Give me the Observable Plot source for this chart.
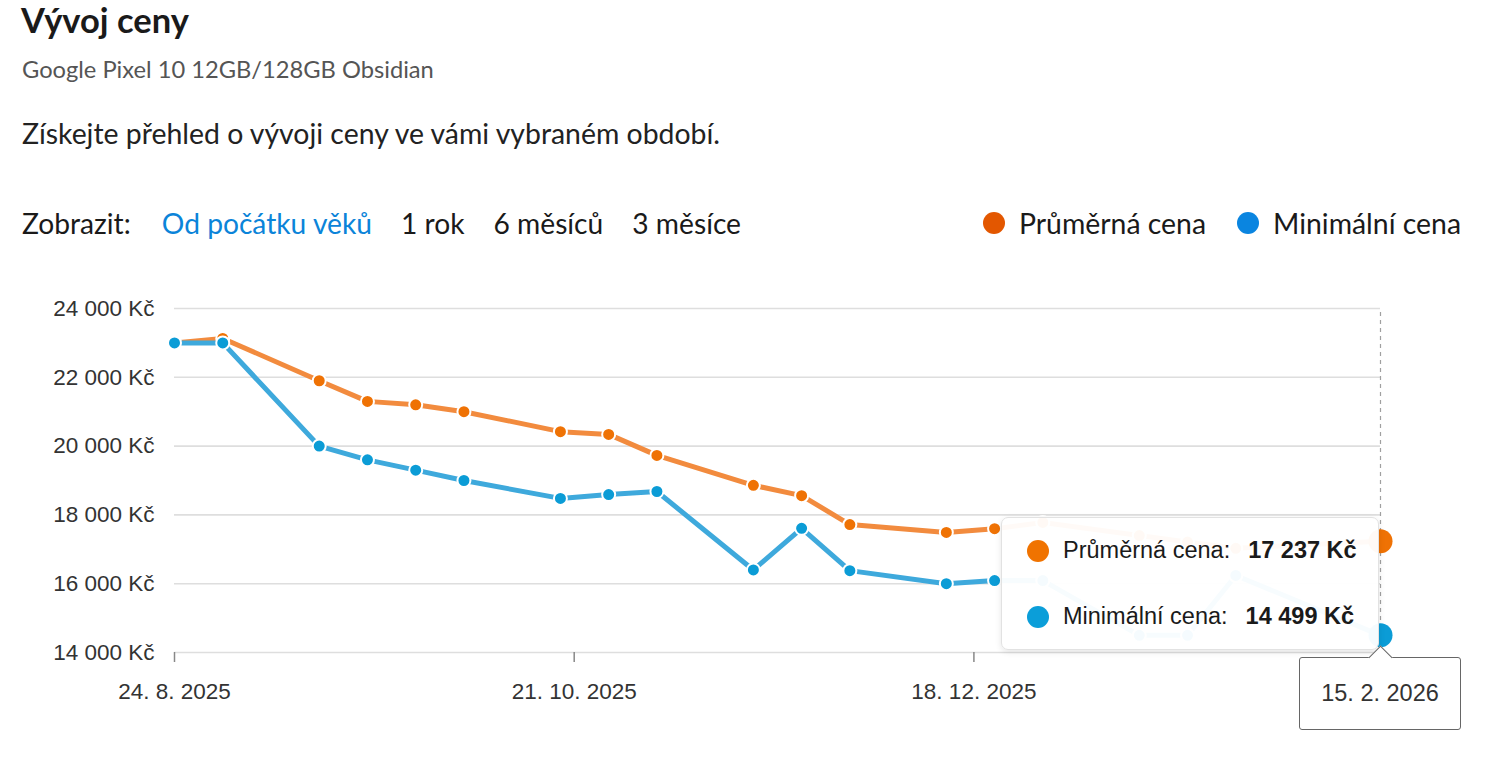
<!DOCTYPE html>
<html lang="cs">
<head>
<meta charset="utf-8">
<script src="https://cdn.jsdelivr.net/npm/d3@7"></script>
<script src="https://cdn.jsdelivr.net/npm/@observablehq/plot@0.6"></script>
<style>
  html, body { margin: 0; padding: 0; background: #fff; }
  body { width: 1496px; height: 772px; overflow: hidden; position: relative; font-family: Lato, "Noto Sans", sans-serif; color: #1f1f1f; }
  .abs { position: absolute; white-space: nowrap; line-height: 1; }
  #title { left: 21px; top: 3px; font-size: 34.5px; font-weight: 700; color: #1a1a1a; }
  #subtitle { left: 22px; top: 58px; font-size: 23.7px; color: #555; }
  #lead { left: 22px; top: 119px; font-size: 28.4px; color: #222; }
  #nav { left: 22px; top: 209px; font-size: 28.2px; color: #1a1a1a; }
  #nav span { margin-right: 29px; }
  #nav .lbl { margin-right: 31px; }
  #nav .active { color: #0b84d9; }
  #legend { right: 35px; top: 209px; font-size: 28.4px; color: #1a1a1a; display: flex; align-items: center; }
  #legend .sw { display: inline-block; width: 22px; height: 22px; border-radius: 50%; margin-right: 14px; }
  #legend .item { display: flex; align-items: center; margin-left: 31px; }
  #chart { position: absolute; left: 0; top: 280px; width: 1496px; height: 460px; }
  #tooltip { position: absolute; width: 378px; height: 133px; box-sizing: border-box; background: rgba(255,255,255,0.96); border: 1.5px solid #e2e2e2; border-radius: 7px; box-shadow: 0 2px 6px rgba(0,0,0,0.10); font-family: "Liberation Sans", Arial, sans-serif; font-size: 23.5px; color: #1a1a1a; }
  #tooltip .row { position: absolute; left: 25px; display: flex; align-items: center; }
  #tooltip .dot { width: 22px; height: 22px; border-radius: 50%; margin-right: 14px; }
  #tooltip b { margin-left: 18px; }
  #datebox { position: absolute; width: 162px; height: 73px; box-sizing: border-box; background: #fff; border: 1.5px solid #666; border-radius: 3px; font-family: "Liberation Sans", Arial, sans-serif; font-size: 23.5px; color: #333; display: flex; align-items: center; justify-content: center; }
  #datebox .notch { position: absolute; top: -9px; width: 16px; height: 16px; background: #fff; border-left: 1.5px solid #666; border-top: 1.5px solid #666; transform: rotate(45deg); }
</style>
</head>
<body>
<div id="title" class="abs">Vývoj ceny</div>
<div id="subtitle" class="abs">Google Pixel 10 12GB/128GB Obsidian</div>
<div id="lead" class="abs">Získejte přehled o vývoji ceny ve vámi vybraném období.</div>
<div id="nav" class="abs"></div>
<div id="legend" class="abs"></div>
<div id="chart"></div>
<script>
// ---- data ----
const dates = ["2025-08-24","2025-08-31","2025-09-14","2025-09-21","2025-09-28","2025-10-05",
  "2025-10-19","2025-10-26","2025-11-02","2025-11-16","2025-11-23","2025-11-30",
  "2025-12-14","2025-12-21","2025-12-28","2026-01-11","2026-01-18","2026-01-25","2026-02-15"];
const avgPrices = [23000, 23130, 21900, 21300, 21200, 21000, 20420, 20340, 19730, 18860, 18560, 17720,
  17490, 17600, 17780, 17400, 17210, 17030, 17237];
const minPrices = [23000, 23000, 20000, 19600, 19300, 19000, 18480, 18590, 18680, 16400, 17610, 16380,
  16000, 16090, 16090, 14499, 14499, 16240, 14499];
const seriesNames = ["Průměrná cena", "Minimální cena"];
const xTickDates = ["2025-08-24", "2025-10-21", "2025-12-18"];
const yTicks = [14000, 16000, 18000, 20000, 22000, 24000];
const navLabel = "Zobrazit:";
const navItems = ["Od počátku věků", "1 rok", "6 měsíců", "3 měsíce"];

// ---- header ----
const nav = document.getElementById("nav");
nav.innerHTML = `<span class="lbl">${navLabel}</span>` +
  navItems.map((t, i) => `<span class="${i === 0 ? "active" : ""}">${t}</span>`).join("");
const legendColors = ["#e35700", "#0a85e0"];
document.getElementById("legend").innerHTML = seriesNames.map((n, i) =>
  `<span class="item"><span class="sw" style="background:${legendColors[i]}"></span>${n}</span>`).join("");

// ---- chart ----
const parse = s => new Date(s + "T00:00:00Z");
const avg = dates.map((d, i) => ({date: parse(d), value: avgPrices[i]}));
const min = dates.map((d, i) => ({date: parse(d), value: minPrices[i]}));
const lastAvg = avg[avg.length - 1], lastMin = min[min.length - 1];
const fmtNum = v => d3.format(",")(v).replace(/,/g, " ");
const fmtDate = d => `${d.getUTCDate()}. ${d.getUTCMonth() + 1}. ${d.getUTCFullYear()}`;

const plot = Plot.plot({
  width: 1496, height: 460,
  marginLeft: 174, marginRight: 116, marginTop: 28, marginBottom: 88,
  style: {fontFamily: "'Liberation Sans', Arial, sans-serif", fontSize: "22.5px", color: "#333", background: "transparent"},
  x: {type: "utc", domain: [parse(dates[0]), parse(dates[dates.length - 1])], label: null},
  y: {domain: [yTicks[0], yTicks[yTicks.length - 1]], label: null},
  marks: [
    Plot.gridY(yTicks, {stroke: "#dedede", strokeOpacity: 1, strokeWidth: 1.6}),
    Plot.ruleX([lastAvg.date], {y1: yTicks[0], y2: yTicks[yTicks.length - 1], stroke: "#a0a0a0", strokeWidth: 1.2, strokeDasharray: "4,4"}),
    Plot.axisY({ticks: yTicks, tickSize: 0, tickPadding: 20, tickFormat: v => fmtNum(v) + " Kč", fill: "#333", label: null}),
    Plot.axisX({ticks: xTickDates.map(parse), tickSize: 10, tickPadding: 21, stroke: "#888", strokeWidth: 1.5, tickFormat: fmtDate, fill: "#333", label: null}),
    Plot.line(avg, {x: "date", y: "value", stroke: "#f28b3e", strokeWidth: 5}),
    Plot.dot(avg.slice(0, -1), {x: "date", y: "value", r: 6.5, fill: "#ef7204", stroke: "#fff", strokeWidth: 2}),
    Plot.line(min, {x: "date", y: "value", stroke: "#3ea9dc", strokeWidth: 5}),
    Plot.dot(min.slice(0, -1), {x: "date", y: "value", r: 6.5, fill: "#0b9cd6", stroke: "#fff", strokeWidth: 2}),
    Plot.dot([lastAvg], {x: "date", y: "value", r: 12, fill: "#ef7204"}),
    Plot.dot([lastMin], {x: "date", y: "value", r: 12, fill: "#0b9cd6"})
  ]
});
const chart = document.getElementById("chart");
chart.appendChild(plot);

// ---- tooltip overlay positioned from the plot's scales ----
const xs = plot.scale("x"), ys = plot.scale("y");
const px = xs.apply(lastAvg.date);
const yBottom = ys.apply(yTicks[0]);
const tip = document.createElement("div");
tip.id = "tooltip";
tip.style.left = (px - 379) + "px";
tip.style.top = (yBottom - 135) + "px";
tip.innerHTML =
  `<div class="row" style="top:19px"><span class="dot" style="background:#f07300"></span>${seriesNames[0]}:<b>${fmtNum(lastAvg.value)} Kč</b></div>` +
  `<div class="row" style="top:85px"><span class="dot" style="background:#0b9ed9"></span>${seriesNames[1]}:<b>${fmtNum(lastMin.value)} Kč</b></div>`;
chart.appendChild(tip);
const box = document.createElement("div");
box.id = "datebox";
box.style.left = (px - 81) + "px";
box.style.top = (yBottom + 5) + "px";
box.innerHTML = `<span class="notch" style="left:${81 - 9}px"></span><span style="position:relative">${fmtDate(lastAvg.date)}</span>`;
chart.appendChild(box);
</script>
</body>
</html>
